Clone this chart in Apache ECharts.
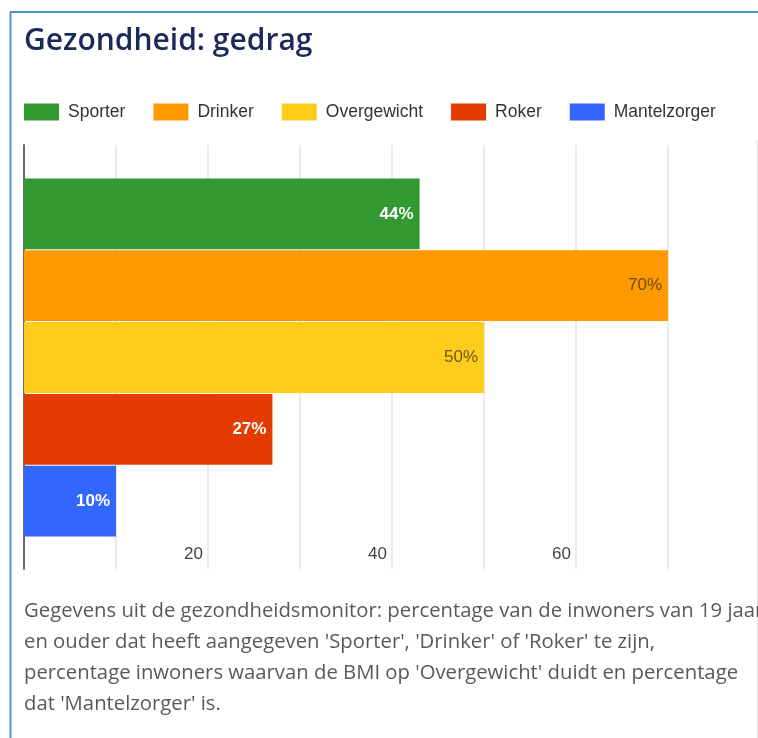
<!DOCTYPE html>
<html>
<head>
<meta charset="utf-8">
<script src="https://cdn.jsdelivr.net/npm/echarts@6/dist/echarts.min.js"></script>
<style>
html,body{margin:0;padding:0;background:#fff;}
#chart{width:758px;height:738px;}
</style>
</head>
<body>
<div id="chart"></div>
<script>
// gegevens
var categories=['Sporter','Drinker','Overgewicht','Roker','Mantelzorger'];
var values=[43,70,50,27,10];
var valueLabels=['44%','70%','50%','27%','10%'];
var colors=['#339933','#ff9900','#fecd1b','#e33b00','#3366ff'];
var labelColors=['#ffffff','#6b4a12','#6a5a1c','#ffffff','#ffffff'];
var labelBold=[true,false,false,true,true];
var xTicks=[20,40,60];
var footer=[
    "Gegevens uit de gezondheidsmonitor: percentage van de inwoners van 19 jaar",
    "en ouder dat heeft aangegeven 'Sporter', 'Drinker' of 'Roker' te zijn,",
    "percentage inwoners waarvan de BMI op 'Overgewicht' duidt en percentage",
    "dat 'Mantelzorger' is."
];

var myChart=echarts.init(document.getElementById('chart'));

var series=[];
for(var i=0;i<categories.length;i++){
    var d=[];
    for(var j=0;j<categories.length;j++){
        d[j]=(i==j)?values[i]:'-';
    }
    series.push({
        name:categories[i],
        type:'bar',
        xAxisIndex:1,
        yAxisIndex:1,
        data:d,
        barGap:'-100%',
        barCategoryGap:'1.4%',
        itemStyle:{color:colors[i]},
        label:{
            show:true,
            position:'insideRight',
            distance:6,
            fontFamily:'Arial',
            fontSize:17,
            fontWeight:labelBold[i]?'bold':'normal',
            color:labelColors[i],
            formatter:(function(k){return function(){return valueLabels[k];};})(i)
        },
        silent:true
    });
}

var option={
    animation:false,
    title:{
        text:'Gezondheid: gedrag',
        left:20,
        top:26,
        padding:[0,0,0,4],
        textStyle:{
            fontFamily:'Open Sans',
            fontWeight:600,
            fontSize:30,
            color:'#1c2a5a'
        }
    },
    legend:{
        left:24,
        top:103,
        padding:0,
        icon:'rect',
        itemWidth:35,
        itemHeight:17,
        itemGap:28,
        selectedMode:false,
        data:categories,
        textStyle:{
            fontFamily:'Arial',
            fontSize:17.5,
            color:'#333',
            padding:[0,0,0,4]
        }
    },
    grid:[
        {left:24,top:145,width:644,height:424},
        {left:24,top:178,width:644,height:359}
    ],
    xAxis:[
        {
            type:'value',gridIndex:0,min:0,max:70,interval:10,
            axisLine:{show:false},
            axisTick:{show:false},
            splitLine:{lineStyle:{color:'#e2e2e2',width:1.5}},
            axisLabel:{
                inside:true,
                margin:6,
                align:'right',
                padding:[0,5,0,0],
                fontFamily:'Arial',
                fontSize:17,
                color:'#444',
                formatter:function(v){return xTicks.indexOf(v)>=0?String(v):'';}
            }
        },
        {
            type:'value',gridIndex:1,min:0,max:70,show:false
        }
    ],
    yAxis:[
        {
            type:'value',gridIndex:0,min:0,max:1,
            axisLine:{show:true,lineStyle:{color:'#666',width:2}},
            axisTick:{show:false},
            axisLabel:{show:false},
            splitLine:{show:false}
        },
        {
            type:'category',gridIndex:1,inverse:true,data:categories,show:false
        }
    ],
    graphic:[
        {type:'line',shape:{x1:10.5,y1:12,x2:10.5,y2:738},style:{stroke:'#4a96bf',lineWidth:2},silent:true},
        {type:'line',shape:{x1:10,y1:12,x2:758,y2:12},style:{stroke:'#4a96bf',lineWidth:2},silent:true},
        {type:'line',shape:{x1:757.5,y1:140,x2:757.5,y2:738},style:{stroke:'#e4e4e4',lineWidth:1},silent:true},
        {
            type:'text',left:24,top:596,silent:true,
            style:{
                text:footer.join('\n'),
                fontFamily:'Open Sans',
                fontSize:20.3,
                lineHeight:31,
                fill:'#595959'
            }
        }
    ],
    series:series
};
myChart.setOption(option);
</script>
</body>
</html>
